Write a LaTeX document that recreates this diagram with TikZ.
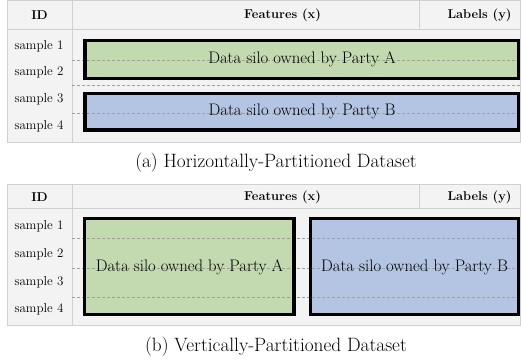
\documentclass[tikz,border=0pt]{standalone}
\usepackage{fontspec}
\definecolor{tblfill}{HTML}{F3F3F3}
\definecolor{tblline}{HTML}{D0D0D0}
\definecolor{siloA}{HTML}{C3DAB1}
\definecolor{siloB}{HTML}{B3C5E2}
\definecolor{dashc}{HTML}{A0A0A0}
\tikzset{
  tbl/.style={fill=tblfill, draw=tblline, line width=1pt},
  sep/.style={draw=tblline, line width=1pt},
  hdr/.style={font=\fontsize{12.8}{15}\selectfont\bfseries, inner sep=0pt, anchor=center},
  smp/.style={font=\fontsize{13}{15}\selectfont, inner sep=0pt, anchor=center},
  silotext/.style={font=\fontsize{16.7}{19}\selectfont, inner sep=0pt, anchor=center},
  captiontext/.style={font=\fontsize{19.3}{22}\selectfont, inner sep=0pt, anchor=center},
  siloedge/.style={draw=black, line width=3.3pt},
  dline/.style={draw=dashc, line width=0.8pt, dash pattern=on 3pt off 2pt},
}
\begin{document}
\begin{tikzpicture}[x=1pt,y=-1pt]
\useasboundingbox (0,0) rectangle (521,363);
% ---------------- (a) ----------------
\path[tbl] (7,1) rectangle (520.5,143);
\draw[sep] (7,30) -- (520.5,30);
\draw[sep] (72,1) -- (72,143);
\draw[sep] (419,1) -- (419,30);
\fill[siloA] (85,40.7) rectangle (518.5,78.3);
\fill[siloB] (85,93.3) rectangle (518.5,130);
\coordinate (ad1l) at (72,60); \coordinate (ad1r) at (520.5,60);
\coordinate (ad2l) at (72,85.5); \coordinate (ad2r) at (520.5,85.5);
\coordinate (ad3l) at (72,113.5); \coordinate (ad3r) at (520.5,113.5);
\draw[dline] (ad1l) -- (ad1r);
\draw[dline] (ad2l) -- (ad2r);
\draw[dline] (ad3l) -- (ad3r);
\draw[siloedge] (85,40.7) rectangle (518.5,78.3);
\draw[siloedge] (85,93.3) rectangle (518.5,130);
\node[hdr] (aID) at (39.5,15) {ID};
\node[hdr] (aF) at (282.5,15) {Features (x)};
\node[hdr] (aL) at (479.5,15) {Labels (y)};
\node[smp] (as1) at (39,46) {sample 1};
\node[smp] (as2) at (39,72.5) {sample 2};
\node[smp] (as3) at (39,99.5) {sample 3};
\node[smp] (as4) at (39,126.5) {sample 4};
\node[silotext] (aA) at (302,59) {Data silo owned by Party A};
\node[silotext] (aB) at (302,111.5) {Data silo owned by Party B};
\node[captiontext] (capa) at (276,162.5) {(a) Horizontally-Partitioned Dataset};
% ---------------- (b) ----------------
\path[tbl] (7,185) rectangle (520.5,325.7);
\draw[sep] (7,208) -- (520.5,208);
\draw[sep] (72,185) -- (72,325.7);
\draw[sep] (419,185) -- (419,208);
\fill[siloA] (84.7,218.7) rectangle (294,314.3);
\fill[siloB] (310.7,218.7) rectangle (518.5,314.3);
\coordinate (bd1l) at (72,238.5); \coordinate (bd1r) at (520.5,238.5);
\coordinate (bd2l) at (72,268); \coordinate (bd2r) at (520.5,268);
\coordinate (bd3l) at (72,297); \coordinate (bd3r) at (520.5,297);
\draw[dline] (bd1l) -- (bd1r);
\draw[dline] (bd2l) -- (bd2r);
\draw[dline] (bd3l) -- (bd3r);
\draw[siloedge] (84.7,218.7) rectangle (294,314.3);
\draw[siloedge] (310.7,218.7) rectangle (518.5,314.3);
\node[hdr] (bID) at (39.5,197) {ID};
\node[hdr] (bF) at (282.5,197) {Features (x)};
\node[hdr] (bL) at (479.5,197) {Labels (y)};
\node[smp] (bs1) at (39,226) {sample 1};
\node[smp] (bs2) at (39,254) {sample 2};
\node[smp] (bs3) at (39,282) {sample 3};
\node[smp] (bs4) at (39,309.5) {sample 4};
\node[silotext] (bA) at (189.5,267) {Data silo owned by Party A};
\node[silotext] (bB) at (414.5,267) {Data silo owned by Party B};
\node[captiontext] (capb) at (276,346.5) {(b) Vertically-Partitioned Dataset};
\end{tikzpicture}
\end{document}
